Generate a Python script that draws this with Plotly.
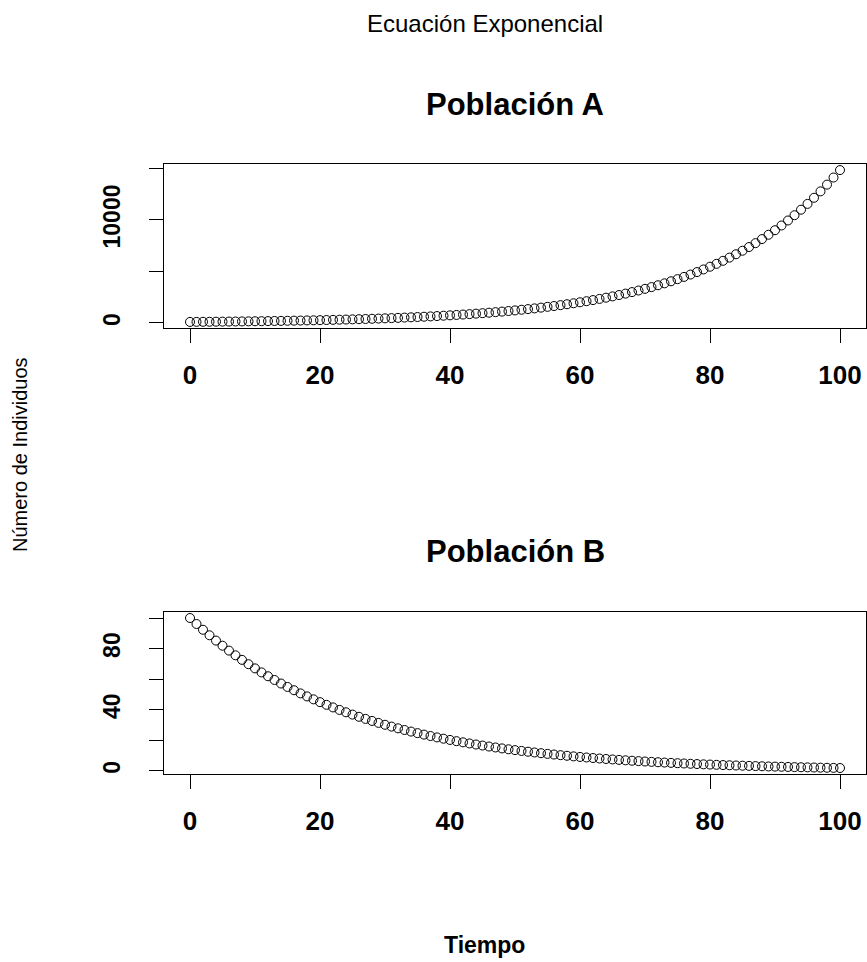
import plotly.graph_objects as go

# ---- data ----
tiempo = list(range(0, 101))
poblacion_a = [100, 105, 111, 116, 122, 128, 135, 142, 149, 157, 165, 173, 182, 192, 201, 212, 223, 234, 246, 259, 272,
               286, 300, 316, 332, 349, 367, 386, 406, 426, 448, 471, 495, 521, 547, 575, 605, 636, 669, 703, 739,
               777, 817, 858, 903, 949, 997, 1049, 1102, 1159, 1218, 1281, 1346, 1415, 1488, 1564, 1644, 1729, 1817, 1911, 2009,
               2112, 2220, 2334, 2453, 2579, 2711, 2850, 2996, 3150, 3312, 3481, 3660, 3847, 4045, 4252, 4470, 4699, 4940, 5194, 5460,
               5740, 6034, 6343, 6669, 7011, 7370, 7748, 8145, 8563, 9002, 9463, 9948, 10459, 10995, 11558, 12151, 12774, 13429, 14118, 14841]
poblacion_b = [100.00, 96.08, 92.31, 88.69, 85.21, 81.87, 78.66, 75.58, 72.61, 69.77, 67.03, 64.40, 61.88, 59.45, 57.12, 54.88,
               52.73, 50.66, 48.68, 46.77, 44.93, 43.17, 41.48, 39.85, 38.29, 36.79,
               35.35, 33.96, 32.63, 31.35, 30.12, 28.94, 27.80, 26.71, 25.67, 24.66, 23.69, 22.76, 21.87, 21.01, 20.19,
               19.40, 18.64, 17.91, 17.20, 16.53, 15.88, 15.26, 14.66, 14.09, 13.53,
               13.00, 12.49, 12.00, 11.53, 11.08, 10.65, 10.23, 9.83, 9.44, 9.07, 8.72, 8.37, 8.05, 7.73, 7.43,
               7.14, 6.86, 6.59, 6.33, 6.08, 5.84, 5.61, 5.39, 5.18, 4.98,
               4.78, 4.59, 4.42, 4.24, 4.08, 3.92, 3.76, 3.62, 3.47, 3.34, 3.21, 3.08, 2.96, 2.84, 2.73,
               2.63, 2.52, 2.42, 2.33, 2.24, 2.15, 2.06, 1.98, 1.91, 1.83]
x_ticks = [0, 20, 40, 60, 80, 100]
x_ticktext = ["0", "20", "40", "60", "80", "100"]
ya_ticks = [0, 5000, 10000, 15000]
ya_ticktext = ["0", "", "10000", ""]
yb_ticks = [0, 20, 40, 60, 80, 100]
yb_ticktext = ["0", "", "40", "", "80", ""]

titulo = "Ecuación Exponencial"
titulo_a = "Población A"
titulo_b = "Población B"
xlabel = "Tiempo"
ylabel = "Número de Individuos"

W, H = 867, 962
FONT = "Liberation Sans, Arial, sans-serif"


def px_x(p):
    return p / W


def px_y(p):
    return 1 - p / H


def r_range(vals, pad=0.04):
    lo, hi = min(vals), max(vals)
    d = hi - lo
    return [lo - pad * d, hi + pad * d]


fig = go.Figure()
marker = dict(symbol="circle-open", size=9, color="black", line=dict(width=1, color="black"))
fig.add_trace(go.Scatter(x=tiempo, y=poblacion_a, mode="markers", marker=marker,
                         xaxis="x", yaxis="y", showlegend=False))
fig.add_trace(go.Scatter(x=tiempo, y=poblacion_b, mode="markers", marker=marker,
                         xaxis="x2", yaxis="y2", showlegend=False))

xdom = [px_x(164), px_x(866)]
common_x = dict(range=r_range(tiempo), tickvals=x_ticks, ticktext=x_ticktext, ticks="outside",
                ticklen=14, tickwidth=1, tickcolor="black", showline=True, linecolor="black",
                linewidth=1, mirror=True, showgrid=False, zeroline=False,
                tickfont=dict(family=FONT, size=26, color="black", weight="bold"),
                ticklabelstandoff=10, domain=xdom)
common_y = dict(ticks="outside", ticklen=14, tickwidth=1, tickcolor="black", showline=True,
                linecolor="black", linewidth=1, mirror=True, showgrid=False, zeroline=False,
                tickangle=-90, tickfont=dict(family=FONT, size=23, color="black", weight="bold"),
                ticklabelstandoff=20)

fig.update_layout(
    width=W, height=H, margin=dict(l=0, r=0, t=0, b=0),
    paper_bgcolor="white", plot_bgcolor="white",
    xaxis=dict(**common_x, anchor="y"),
    yaxis=dict(**common_y, range=r_range(poblacion_a), tickvals=ya_ticks, ticktext=ya_ticktext,
               domain=[px_y(328), px_y(164)], anchor="x"),
    xaxis2=dict(**common_x, anchor="y2"),
    yaxis2=dict(**common_y, range=r_range(poblacion_b), tickvals=yb_ticks, ticktext=yb_ticktext,
                domain=[px_y(774), px_y(612)], anchor="x2"),
    annotations=[
        dict(text=titulo, x=px_x(485), y=px_y(23), xref="paper", yref="paper", showarrow=False,
             xanchor="center", yanchor="middle", font=dict(family=FONT, size=24, color="black")),
        dict(text="<b>" + titulo_a + "</b>", x=px_x(515), y=px_y(104), xref="paper", yref="paper",
             showarrow=False, xanchor="center", yanchor="middle",
             font=dict(family=FONT, size=31, color="black")),
        dict(text="<b>" + titulo_b + "</b>", x=px_x(515), y=px_y(551), xref="paper", yref="paper",
             showarrow=False, xanchor="center", yanchor="middle",
             font=dict(family=FONT, size=31, color="black")),
        dict(text="<b>" + xlabel + "</b>", x=px_x(484), y=px_y(945), xref="paper", yref="paper",
             showarrow=False, xanchor="center", yanchor="middle",
             font=dict(family=FONT, size=23, color="black")),
        dict(text=ylabel, x=px_x(20), y=px_y(455), xref="paper", yref="paper", showarrow=False,
             xanchor="center", yanchor="middle", textangle=-90,
             font=dict(family=FONT, size=20, color="black")),
    ],
)

fig.write_html("out.html")
